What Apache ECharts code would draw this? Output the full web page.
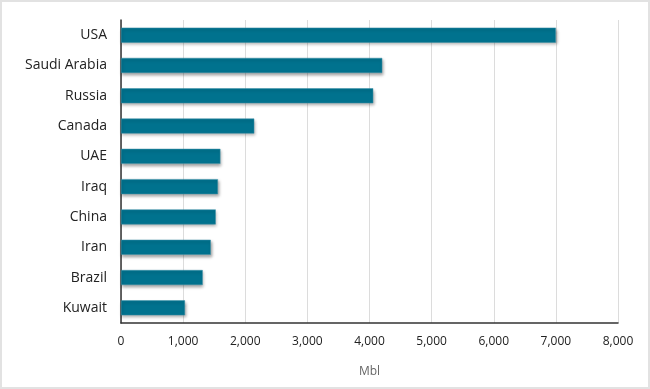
<!DOCTYPE html>
<html>
<head>
<meta charset="utf-8">
<script src="https://cdn.jsdelivr.net/npm/echarts@6/dist/echarts.min.js"></script>
<style>
html,body{margin:0;padding:0;background:#fff;}
#chart{width:650px;height:389px;}
</style>
</head>
<body>
<div id="chart"></div>
<script>
const categories = ["USA", "Saudi Arabia", "Russia", "Canada", "UAE", "Iraq", "China", "Iran", "Brazil", "Kuwait"];
const values = [7000, 4205, 4060, 2145, 1600, 1560, 1525, 1445, 1315, 1030];
const axisName = "Mbl";

const chart = echarts.init(document.getElementById('chart'));
chart.setOption({
  animation: false,
  backgroundColor: '#fff',
  textStyle: { fontFamily: '"Open Sans", "Noto Sans", sans-serif' },
  graphic: [{
    type: 'rect',
    shape: { x: 1, y: 1, width: 648, height: 387 },
    style: { fill: 'none', stroke: '#e2e2e2', lineWidth: 2 },
    silent: true
  }],
  grid: { left: 121, right: 32, top: 20, bottom: 66, containLabel: false },
  xAxis: {
    type: 'value',
    min: 0, max: 8000, interval: 1000,
    name: axisName,
    nameLocation: 'middle',
    nameGap: 43,
    nameTextStyle: { color: '#666', fontSize: 12, fontFamily: '"Open Sans", sans-serif' },
    axisLine: { show: true, lineStyle: { color: '#333', width: 1.5 } },
    axisTick: { show: false },
    axisLabel: {
      color: '#222', fontSize: 12, margin: 13,
      fontFamily: '"Open Sans", sans-serif',
      formatter: v => v.toLocaleString('en-US')
    },
    splitLine: { show: true, lineStyle: { color: '#dcdcdc', width: 1 } }
  },
  yAxis: {
    type: 'category',
    data: categories,
    inverse: true,
    axisLine: { show: true, lineStyle: { color: '#333', width: 1.5 } },
    axisTick: { show: false },
    axisLabel: { color: '#222', fontSize: 14, margin: 14, fontFamily: '"Open Sans", sans-serif' },
    splitLine: { show: false }
  },
  series: [{
    type: 'bar',
    data: values,
    barWidth: 15,
    itemStyle: {
      color: '#00728e',
      borderColor: '#3d93a8',
      borderWidth: 0.5,
      shadowColor: 'rgba(0,0,0,0.35)',
      shadowBlur: 3,
      shadowOffsetX: 1,
      shadowOffsetY: 2
    }
  }]
});
</script>
</body>
</html>
